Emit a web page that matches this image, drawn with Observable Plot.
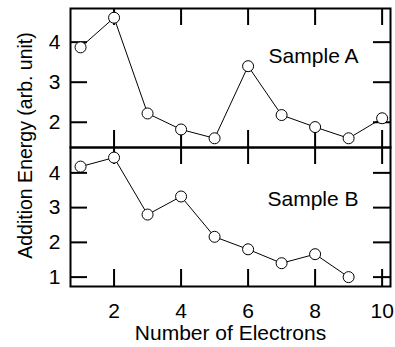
<!DOCTYPE html>
<html>
<head>
<meta charset="utf-8">
<script src="https://cdn.jsdelivr.net/npm/d3@7"></script>
<script src="https://cdn.jsdelivr.net/npm/@observablehq/plot@0.6"></script>
<style>
  html, body { margin: 0; padding: 0; background: white; }
  #chart { position: relative; width: 395px; height: 347px; }
  #chart svg { position: absolute; left: 0; background: transparent; overflow: visible; }
</style>
</head>
<body>
<div id="chart"></div>
<script>
const electrons = [1, 2, 3, 4, 5, 6, 7, 8, 9, 10];
const sampleA = [3.87, 4.61, 2.22, 1.82, 1.6, 3.4, 2.18, 1.88, 1.6, 2.1];
const electronsB = [1, 2, 3, 4, 5, 6, 7, 8, 9];
const sampleB = [4.18, 4.44, 2.8, 3.32, 2.16, 1.8, 1.4, 1.66, 1.0];
const xTicks = [2, 4, 6, 8, 10];
const yTicksA = [2, 3, 4];
const yTicksB = [1, 2, 3, 4];
const xLabel = "Number of Electrons";
const yLabel = "Addition Energy (arb. unit)";

const dataA = electrons.map((n, i) => ({n, e: sampleA[i]}));
const dataB = electronsB.map((n, i) => ({n, e: sampleB[i]}));

const font = "'Liberation Sans', Arial, Helvetica, sans-serif";
const W = 395, ML = 70, MR = 5;
const TL = 17; // tick length

function panel({data, yDomain, yTicks, height, marginTop, marginBottom, label, labelDy, bottomAxis, extra = []}) {
  const ph = height - marginTop - marginBottom;
  const pw = W - ML - MR;
  return Plot.plot({
    width: W, height, marginLeft: ML, marginRight: MR, marginTop, marginBottom,
    style: {fontSize: "21px", fontFamily: font, background: "transparent", overflow: "visible", color: "black"},
    x: {domain: [0.7, 10.25], axis: null},
    y: {domain: yDomain, axis: null},
    marks: [
      Plot.axisY(yTicks, {anchor: "left", tickSize: 0, tickPadding: 10, label: null, fontSize: 21}),
      bottomAxis ? Plot.axisX(xTicks, {anchor: "bottom", tickSize: 0, tickPadding: 17, label: null, fontSize: 21}) : null,
      Plot.tickX(xTicks, {x: d => d, insetTop: ph - TL, stroke: "black", strokeWidth: 2}),
      Plot.tickX(xTicks, {x: d => d, insetBottom: ph - TL, stroke: "black", strokeWidth: 2}),
      Plot.tickY(yTicks, {y: d => d, insetRight: pw - TL, stroke: "black", strokeWidth: 2}),
      Plot.tickY(yTicks, {y: d => d, insetLeft: pw - TL, stroke: "black", strokeWidth: 2}),
      Plot.line(data, {x: "n", y: "e", stroke: "black", strokeWidth: 1}),
      Plot.dot(data, {x: "n", y: "e", r: 5.5, fill: "white", stroke: "black", strokeWidth: 1}),
      Plot.text([label], {text: d => d, frameAnchor: "top-right", textAnchor: "end", lineAnchor: "middle", dx: -32, dy: labelDy, fontSize: 21, fill: "black"}),
      Plot.frame({stroke: "black", strokeWidth: 2}),
      ...extra
    ]
  });
}

const topPanel = panel({
  data: dataA, yDomain: [1.37, 4.84], yTicks: yTicksA,
  height: 150, marginTop: 8, marginBottom: 3, label: "Sample A", labelDy: 48, bottomAxis: false
});
topPanel.style.top = "0px";

const bottomPanel = panel({
  data: dataB, yDomain: [0.73, 4.73], yTicks: yTicksB,
  height: 203, marginTop: 3, marginBottom: 61, label: "Sample B", labelDy: 52, bottomAxis: true,
  extra: [
    Plot.text([xLabel], {text: d => d, frameAnchor: "bottom", lineAnchor: "middle", dy: 47, dx: 0, fontSize: 21, fill: "black"}),
    Plot.text([yLabel], {text: d => d, frameAnchor: "top-left", rotate: -90, lineAnchor: "middle", textAnchor: "middle", dx: -45, dy: -2, fontSize: 19.5, fill: "black"})
  ]
});
bottomPanel.style.top = "144px";

const chart = document.getElementById("chart");
chart.appendChild(topPanel);
chart.appendChild(bottomPanel);
</script>
</body>
</html>
